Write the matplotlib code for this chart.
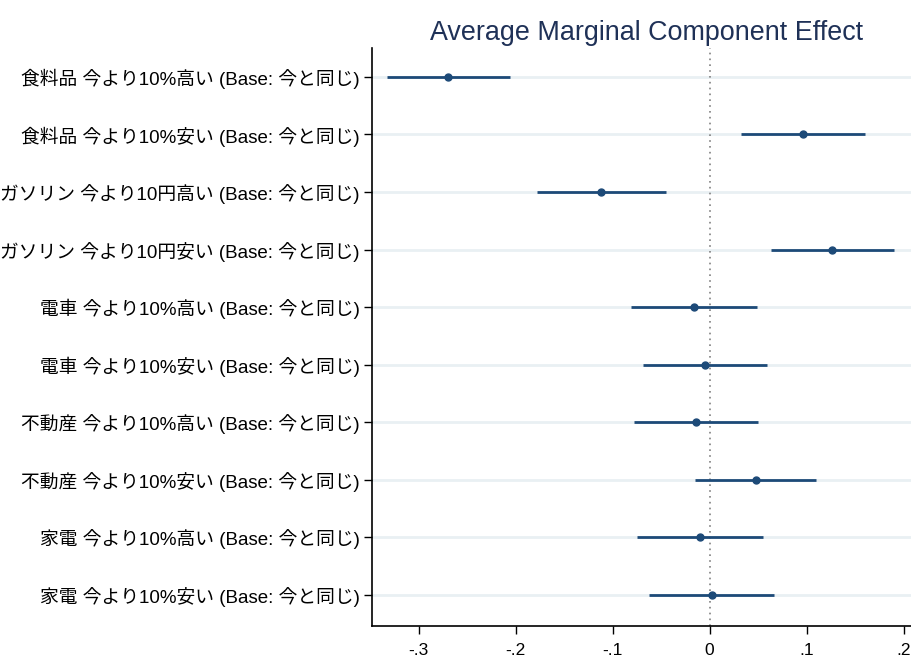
import matplotlib
matplotlib.use("Agg")
import matplotlib.pyplot as plt

plt.rcParams['font.family'] = ['Liberation Sans', 'Noto Sans CJK JP', 'DejaVu Sans']

labels = [
    "食料品 今より10%高い (Base: 今と同じ)",
    "食料品 今より10%安い (Base: 今と同じ)",
    "ガソリン 今より10円高い (Base: 今と同じ)",
    "ガソリン 今より10円安い (Base: 今と同じ)",
    "電車 今より10%高い (Base: 今と同じ)",
    "電車 今より10%安い (Base: 今と同じ)",
    "不動産 今より10%高い (Base: 今と同じ)",
    "不動産 今より10%安い (Base: 今と同じ)",
    "家電 今より10%高い (Base: 今と同じ)",
    "家電 今より10%安い (Base: 今と同じ)",
]
amce = [-0.2695, 0.0967, -0.1123, 0.1266, -0.0165, -0.0051, -0.0140, 0.0476, -0.0097, 0.0020]
ci_low = [-0.3327, 0.0328, -0.1780, 0.0630, -0.0807, -0.0690, -0.0776, -0.0150, -0.0750, -0.0625]
ci_high = [-0.2056, 0.1600, -0.0446, 0.1900, 0.0490, 0.0595, 0.0500, 0.1100, 0.0555, 0.0665]
xticks = [-0.3, -0.2, -0.1, 0, 0.1, 0.2]
xticklabels = ["-.3", "-.2", "-.1", "0", ".1", ".2"]

navy = "#1d4a78"

fig = plt.figure(figsize=(9.11, 6.58), dpi=100)
ax = fig.add_axes([0.4087, 0.0486, 0.5913, 0.8784])

ypos = list(range(len(labels)))
for y in ypos:
    ax.axhline(y, color="#e9f0f3", lw=2, zorder=0)
ax.axvline(0, color="#808080", lw=1.2, ls=(0, (1, 2.5)), zorder=1)

ax.hlines(ypos, ci_low, ci_high, color=navy, lw=2, zorder=2)
ax.plot(amce, ypos, "o", color=navy, ms=5, zorder=3)

ax.set_xlim(-0.348, 0.2077)
ax.set_ylim(len(labels) - 0.46, -0.5)
ax.set_yticks(ypos)
ax.set_yticklabels(labels, fontsize=13.5)
ax.set_xticks(xticks)
ax.set_xticklabels(xticklabels, fontsize=12.5)
ax.tick_params(axis="both", direction="out", length=6, width=1, color="black")
ax.tick_params(axis="y", pad=3)
ax.tick_params(axis="x", pad=6)

for side in ["top", "right"]:
    ax.spines[side].set_visible(False)
for side in ["left", "bottom"]:
    ax.spines[side].set_linewidth(1.2)

ax.set_title("Average Marginal Component Effect", fontsize=19.4, color="#1f3157",
             pad=6, x=0.51)

fig.savefig("out.png", dpi=100)
